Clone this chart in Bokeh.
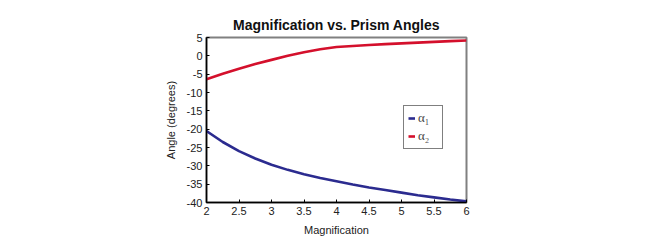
from bokeh.plotting import figure
from bokeh.models import FixedTicker, Range1d
from bokeh.embed import file_html
from bokeh.resources import INLINE

# Data
magnification = [2.0, 2.25, 2.5, 2.75, 3.0, 3.25, 3.5, 3.75, 4.0, 4.25, 4.5, 4.75, 5.0, 5.25, 5.5, 5.75, 6.0]
alpha1 = [-20.5, -23.5, -26.0, -28.0, -29.7, -31.1, -32.3, -33.3, -34.2, -35.1, -35.9, -36.6, -37.3, -38.0, -38.6, -39.2, -39.7]
alpha2 = [-6.4, -4.9, -3.5, -2.2, -1.1, 0.0, 1.0, 1.8, 2.4, 2.7, 2.95, 3.2, 3.4, 3.6, 3.8, 4.0, 4.2]

x_ticks = [2, 2.5, 3, 3.5, 4, 4.5, 5, 5.5, 6]
x_tick_labels = ["2", "2.5", "3", "3.5", "4", "4.5", "5", "5.5", "6"]
y_ticks = [5, 0, -5, -10, -15, -20, -25, -30, -35, -40]
y_tick_labels = ["5", "0", "-5", "-10", "-15", "-20", "-25", "-30", "-35", "-40"]

TICK_FONT = "Liberation Sans Narrow, Liberation Sans, sans-serif"

p = figure(width=641, height=238, output_backend="svg", toolbar_location=None,
           title="Magnification vs. Prism Angles",
           x_range=Range1d(2, 6), y_range=Range1d(-40, 5),
           min_border_left=206, min_border_right=175, min_border_top=37, min_border_bottom=33)

p.title.align = "center"
p.title.text_font = "Liberation Sans"
p.title.text_font_size = "14px"
p.title.text_font_style = "bold"
p.title.text_color = "#111111"
p.title.standoff = 9

p.background_fill_color = "white"
p.border_fill_color = "white"
p.outline_line_color = "#808080"
p.outline_line_width = 2
p.xgrid.visible = False
p.ygrid.visible = False

for ax in (p.xaxis[0], p.yaxis[0]):
    ax.axis_line_color = "black"
    ax.axis_line_width = 1.5
    ax.major_tick_in = 3
    ax.major_tick_out = 0
    ax.minor_tick_line_color = None
    ax.major_tick_line_color = "black"
    ax.major_label_text_font = TICK_FONT
    ax.major_label_text_font_size = "11px"
    ax.major_label_text_color = "#222222"
    ax.axis_label_text_font = TICK_FONT
    ax.axis_label_text_font_size = "11px"
    ax.axis_label_text_font_style = "normal"
    ax.axis_label_text_color = "#222222"

p.xaxis.ticker = FixedTicker(ticks=x_ticks)
p.xaxis.major_label_overrides = dict(zip(x_ticks, x_tick_labels))
p.yaxis.ticker = FixedTicker(ticks=y_ticks)
p.yaxis.major_label_overrides = dict(zip(y_ticks, y_tick_labels))
p.xaxis.axis_label = "Magnification"
p.yaxis.axis_label = "Angle (degrees)"
p.xaxis.major_label_standoff = 4
p.yaxis.major_label_standoff = 4
p.xaxis.axis_label_standoff = 6
p.yaxis.axis_label_standoff = 7

p.line(magnification, alpha1, line_color="#2b2b8f", line_width=2.6, legend_label="α₁")
p.line(magnification, alpha2, line_color="#d4102c", line_width=2.6, legend_label="α₂")

p.legend.location = (197, 53)
p.legend.border_line_color = "black"
p.legend.border_line_width = 1
p.legend.background_fill_color = "white"
p.legend.glyph_width = 7
p.legend.glyph_height = 10
p.legend.label_standoff = 3
p.legend.padding = 4
p.legend.spacing = 2
p.legend.margin = 0
p.legend.label_text_font = "Liberation Serif"
p.legend.label_text_font_size = "13px"
p.legend.label_height = 13

open("out.html", "w").write(file_html(p, INLINE))
